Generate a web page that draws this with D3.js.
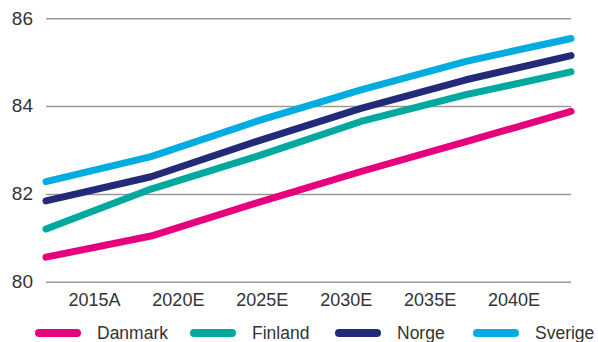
<!DOCTYPE html>
<html>
<head>
<meta charset="utf-8">
<script src="https://cdn.jsdelivr.net/npm/d3@7"></script>
<style>
  body { margin: 0; background: #fff; }
  text { font-family: "Liberation Sans", Arial, sans-serif; fill: #333; }
</style>
</head>
<body>
<div id="chart"></div>
<script>
var categories = ["2015A", "2020E", "2025E", "2030E", "2035E", "2040E"];
var yTicks = [80, 82, 84, 86];
var danmark = [80.56, 81.04, 81.79, 82.51, 83.19, 83.88];
var finland = [81.20, 82.11, 82.85, 83.65, 84.26, 84.78];
var norge   = [81.84, 82.39, 83.19, 83.95, 84.60, 85.15];
var sverige = [82.28, 82.85, 83.65, 84.37, 85.02, 85.54];
var seriesNames = ["Danmark", "Finland", "Norge", "Sverige"];
var colors = ["#e6007e", "#00a99d", "#232b78", "#00ace0"];

var w = 598;
var h = 342;
var series = [danmark, finland, norge, sverige];

var svg = d3.select("#chart")
            .append("svg")
            .attr("width", w)
            .attr("height", h);

var x = d3.scalePoint().domain(categories).range([46, 571]);
var xLabels = d3.scaleBand().domain(categories).range([52.5, 556]);
var y = d3.scaleLinear().domain([80, 86]).range([281.7, 18.3]);

// grid + y labels
var yAxis = d3.axisLeft(y).tickValues(yTicks).tickFormat(d3.format("d")).tickSize(-525).tickPadding(13);
var gy = svg.append("g").attr("transform", "translate(46,0)").call(yAxis);
gy.select(".domain").remove();
gy.selectAll(".tick line").attr("stroke", "#9a9a9a").attr("stroke-width", 1.5);
gy.selectAll(".tick text")
  .attr("font-size", "19px")
  .attr("fill", "#333")
  .attr("dy", "0.3em")
  .style("font-family", '"Liberation Sans", Arial, sans-serif');

// x labels
var xAxis = d3.axisBottom(xLabels).tickSize(0).tickPadding(0);
var gx = svg.append("g").attr("transform", "translate(0,292)").call(xAxis);
gx.select(".domain").remove();
gx.selectAll(".tick text")
  .attr("font-size", "18px")
  .attr("fill", "#333")
  .attr("dy", "0.76em")
  .style("font-family", '"Liberation Sans", Arial, sans-serif');

var line = d3.line()
             .x(function(d, i) { return x(categories[i]); })
             .y(function(d) { return y(d); });

svg.selectAll("path.series")
   .data(series)
   .enter()
   .append("path")
   .attr("class", "series")
   .attr("d", line)
   .attr("fill", "none")
   .attr("stroke", function(d, i) { return colors[i]; })
   .attr("stroke-width", 7)
   .attr("stroke-linecap", "round")
   .attr("stroke-linejoin", "round");

// legend
var legendX = [35, 190, 335, 473];
var leg = svg.selectAll("g.legend")
             .data(seriesNames)
             .enter()
             .append("g")
             .attr("class", "legend")
             .attr("transform", function(d, i) { return "translate(" + legendX[i] + ",333)"; });

leg.append("line")
   .attr("x1", 4).attr("x2", 42)
   .attr("y1", 0).attr("y2", 0)
   .attr("stroke", function(d, i) { return colors[i]; })
   .attr("stroke-width", 8)
   .attr("stroke-linecap", "round");

leg.append("text")
   .attr("x", 62)
   .attr("y", 6)
   .attr("font-size", "17.5px")
   .text(function(d) { return d; });
</script>
</body>
</html>
